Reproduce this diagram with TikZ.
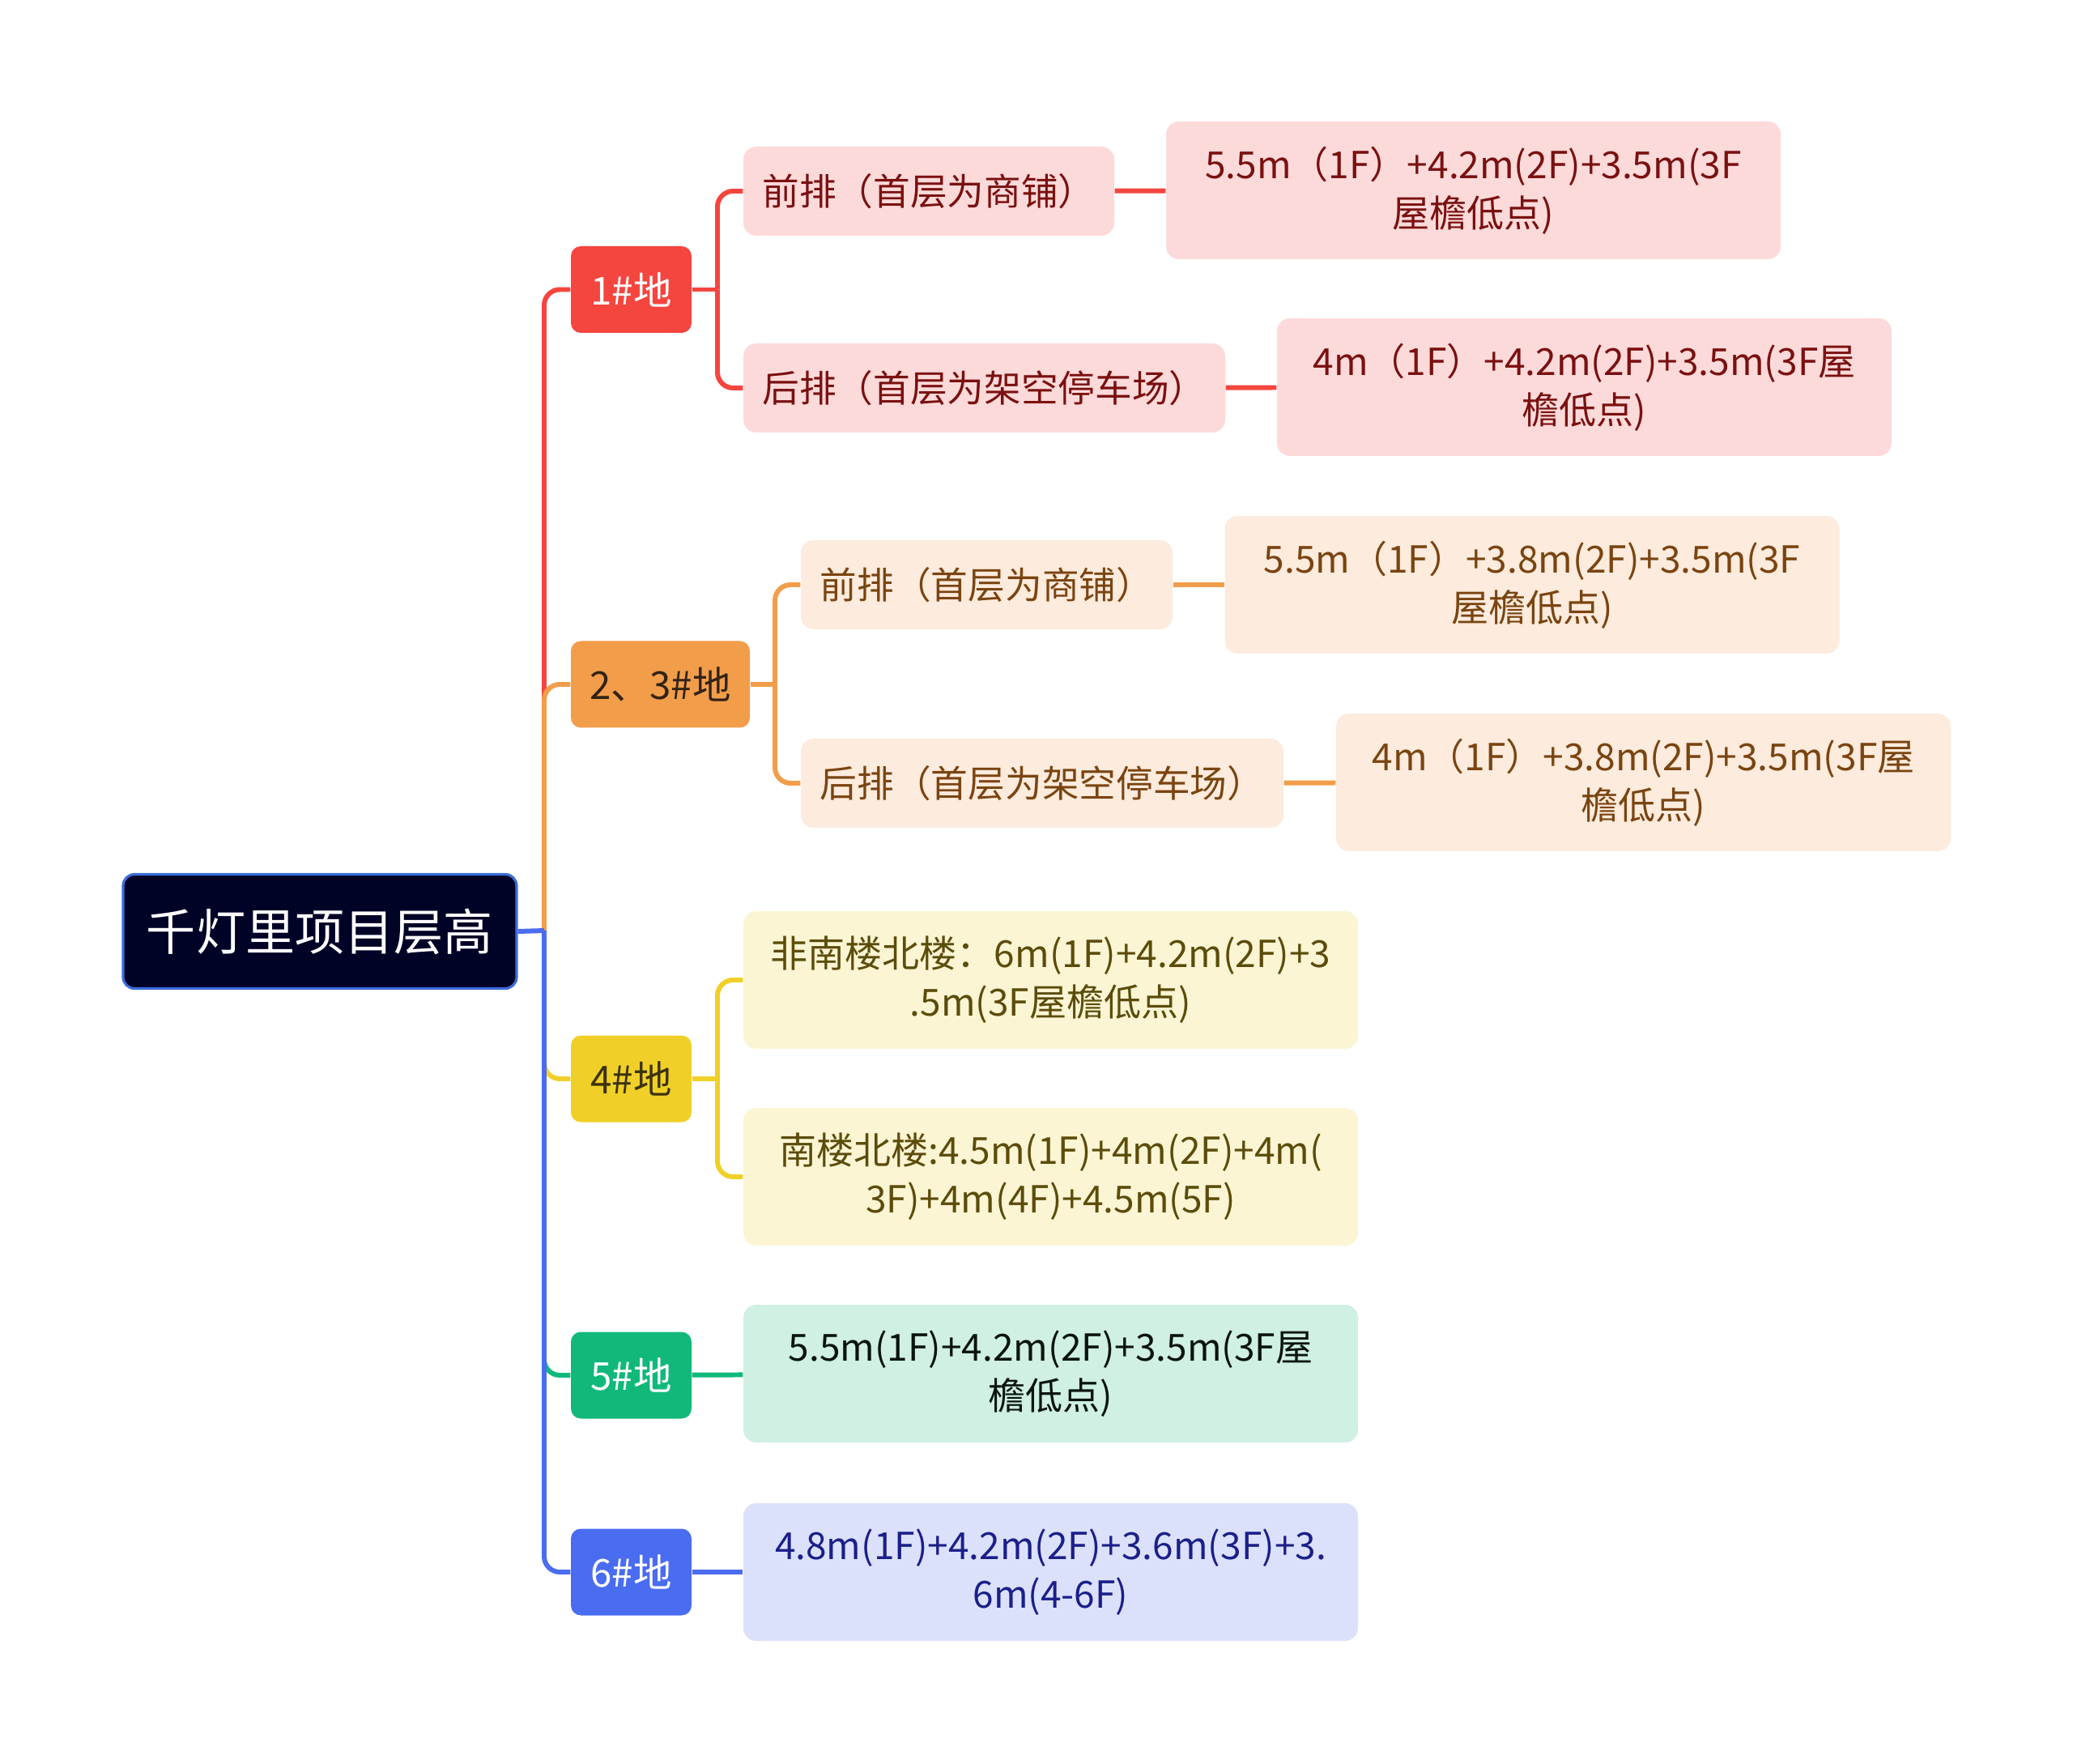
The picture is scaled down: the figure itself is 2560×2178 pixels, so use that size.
\documentclass[tikz,border=0pt]{standalone}
\usepackage{fontspec}
\setmainfont{Noto Sans CJK SC}
\usepackage{xcolor}
\definecolor{mmnavy}{RGB}{0,2,38}
\definecolor{mmedge}{RGB}{60,110,220}
\definecolor{mmred}{RGB}{245,69,63}
\definecolor{mmredlt}{RGB}{253,218,218}
\definecolor{mmredtx}{RGB}{122,16,16}
\definecolor{mmorange}{RGB}{242,157,74}
\definecolor{mmorangelt}{RGB}{253,235,221}
\definecolor{mmorangetx}{RGB}{122,68,16}
\definecolor{mmorangedk}{RGB}{50,35,20}
\definecolor{mmyellow}{RGB}{240,208,40}
\definecolor{mmyellowlt}{RGB}{251,245,212}
\definecolor{mmyellowtx}{RGB}{92,76,10}
\definecolor{mmyellowdk}{RGB}{60,50,10}
\definecolor{mmgreen}{RGB}{16,185,122}
\definecolor{mmgreenlt}{RGB}{207,240,226}
\definecolor{mmgreentx}{RGB}{10,20,15}
\definecolor{mmblue}{RGB}{74,108,240}
\definecolor{mmbluelt}{RGB}{220,225,251}
\definecolor{mmbluetx}{RGB}{26,31,138}
\usetikzlibrary{positioning}

\begin{document}
\begin{tikzpicture}[
  x=0.1mm, y=-0.1mm,
  topic/.style={
    rectangle, rounded corners=4pt,
    minimum width=48.6mm, minimum height=14.1mm,
    draw=mmedge, line width=0.9pt,
    fill=mmnavy, text=white,
    font=\fontsize{17.4}{20}\selectfont
  },
  plot/.style={
    rectangle, rounded corners=3.5pt,
    minimum height=10.7mm, inner sep=0pt,
    fill=#1, font=\fontsize{13.5}{16}\selectfont
  },
  row/.style={
    rectangle, rounded corners=4.5pt,
    minimum height=11mm, inner sep=0pt,
    fill=#1, font=\fontsize{13}{16}\selectfont
  },
  leaf/.style={
    rectangle, rounded corners=4.5pt,
    minimum width=75.9mm, minimum height=17mm, inner sep=0pt,
    fill=#1, align=center,
    font=\fontsize{13.1}{17.1}\selectfont
  },
  conn/.style={line width=1.7pt, draw=#1},
  elbow/.style={rounded corners=5.5pt}
]
\useasboundingbox (0,0) rectangle (2560,2178);

% root and first level
\node[topic] (root) at (395,1150) {千灯里项目层高};

\node[plot=mmred, text=white, minimum width=14.9mm] (p1) at (779.5,357.5) {1\#地};
\node[plot=mmorange, text=mmorangedk, minimum width=22.1mm] (p23) at (815.5,845) {2、3\#地};
\node[plot=mmyellow, text=mmyellowdk, minimum width=14.9mm] (p4) at (779.5,1332) {4\#地};
\node[plot=mmgreen, text=white, minimum width=14.9mm] (p5) at (779.5,1698) {5\#地};
\node[plot=mmblue, text=white, minimum width=14.9mm] (p6) at (779.5,1941) {6\#地};

% rows
\node[row=mmredlt, text=mmredtx, minimum width=45.8mm] (r1a) at (1147,236) {前排（首层为商铺）};
\node[row=mmredlt, text=mmredtx, minimum width=59.5mm] (r1b) at (1215.5,479) {后排（首层为架空停车场）};
\node[row=mmorangelt, text=mmorangetx, minimum width=45.9mm] (r23a) at (1218.5,722) {前排（首层为商铺）};
\node[row=mmorangelt, text=mmorangetx, minimum width=59.6mm] (r23b) at (1287,967) {后排（首层为架空停车场）};

% heights
\node[leaf=mmredlt, text=mmredtx] (h1a) at (1819.5,235) {5.5m（1F）+4.2m(2F)+3.5m(3F\\屋檐低点)};
\node[leaf=mmredlt, text=mmredtx] (h1b) at (1956.5,478) {4m（1F）+4.2m(2F)+3.5m(3F屋\\檐低点)};
\node[leaf=mmorangelt, text=mmorangetx] (h23a) at (1892,722) {5.5m（1F）+3.8m(2F)+3.5m(3F\\屋檐低点)};
\node[leaf=mmorangelt, text=mmorangetx] (h23b) at (2029.5,966) {4m（1F）+3.8m(2F)+3.5m(3F屋\\檐低点)};
\node[leaf=mmyellowlt, text=mmyellowtx] (h4a) at (1297.5,1210) {非南楼北楼：6m(1F)+4.2m(2F)+3\\.5m(3F屋檐低点)};
\node[leaf=mmyellowlt, text=mmyellowtx] (h4b) at (1297.5,1453) {南楼北楼:4.5m(1F)+4m(2F)+4m(\\3F)+4m(4F)+4.5m(5F)};
\node[leaf=mmgreenlt, text=mmgreentx] (h5) at (1297.5,1696) {5.5m(1F)+4.2m(2F)+3.5m(3F屋\\檐低点)};
\node[leaf=mmbluelt, text=mmbluetx] (h6) at (1297.5,1941) {4.8m(1F)+4.2m(2F)+3.6m(3F)+3.\\6m(4-6F)};

\coordinate (trunk) at (672,1149);
\coordinate (j1) at (886,357.5);
\coordinate (j23) at (957,845);
\coordinate (j4) at (886,1332);

% trunk
\draw[conn=mmred, elbow] (trunk) |- (p1.west);
\draw[conn=mmorange, elbow] (trunk) |- (p23.west);
\draw[conn=mmyellow, elbow] (trunk) |- (p4.west);
\draw[conn=mmgreen, elbow] (trunk) |- (p5.west);
\draw[conn=mmblue, elbow] (trunk) |- (p6.west);
\draw[conn=mmblue] (root.east) -- (trunk);

% branches
\draw[conn=mmred] (p1.east) -- (j1);
\draw[conn=mmred, elbow] (j1) |- (r1a.west);
\draw[conn=mmred, elbow] (j1) |- (r1b.west);
\draw[conn=mmred] (r1a) -- (h1a);
\draw[conn=mmred] (r1b) -- (h1b);

\draw[conn=mmorange] (p23.east) -- (j23);
\draw[conn=mmorange, elbow] (j23) |- (r23a.west);
\draw[conn=mmorange, elbow] (j23) |- (r23b.west);
\draw[conn=mmorange] (r23a) -- (h23a);
\draw[conn=mmorange] (r23b) -- (h23b);

\draw[conn=mmyellow] (p4.east) -- (j4);
\draw[conn=mmyellow, elbow] (j4) |- (h4a.west);
\draw[conn=mmyellow, elbow] (j4) |- (h4b.west);

\draw[conn=mmgreen] (p5) -- (h5);
\draw[conn=mmblue] (p6) -- (h6);
\end{tikzpicture}
\end{document}
